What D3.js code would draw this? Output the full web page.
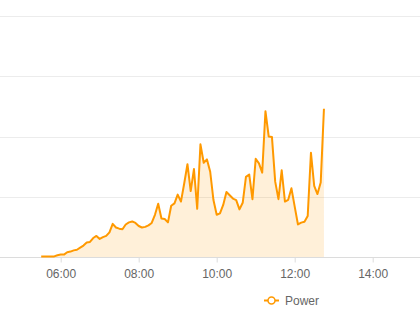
<!DOCTYPE html>
<html>
<head>
<meta charset="utf-8">
<script src="https://cdn.jsdelivr.net/npm/d3@7"></script>
<style>
  html, body { margin: 0; padding: 0; background: #fff; }
  svg { display: block; }
  text { font-family: "Liberation Sans", Arial, sans-serif; }
</style>
</head>
<body>
<svg id="chart" width="420" height="336"></svg>
<script>
// ---- data ----
const seriesName = "Power";
const startTime = "05:30";      // first sample
const stepMinutes = 5;          // sample interval
const powerValues = [
  0.01, 0.01, 0.01, 0.01, 0.01, 0.03, 0.04, 0.04, 0.08, 0.09,
  0.11, 0.12, 0.155, 0.19, 0.24, 0.25, 0.315, 0.35, 0.30, 0.33,
  0.35, 0.41, 0.55, 0.49, 0.47, 0.46, 0.54, 0.575, 0.59, 0.565,
  0.515, 0.49, 0.50, 0.525, 0.565, 0.70, 0.885, 0.64, 0.63, 0.575,
  0.85, 0.89, 1.035, 0.92, 1.22, 1.54, 1.095, 1.46, 0.80, 1.87,
  1.565, 1.62, 1.415, 0.945, 0.70, 0.725, 0.865, 1.08, 1.025, 0.97,
  0.945, 0.79, 0.90, 1.33, 1.37, 0.96, 1.63, 1.555, 1.40, 2.42,
  2.00, 1.99, 1.25, 0.96, 1.44, 0.92, 0.95, 1.14, 0.835, 0.54,
  0.57, 0.585, 0.68, 1.73, 1.18, 1.045, 1.235, 2.46
];
const xTickLabels = ["06:00", "08:00", "10:00", "12:00", "14:00"];
const yGridValues = [0, 1, 2, 3, 4];

// ---- helpers ----
const toHours = s => { const [h, m] = s.split(":").map(Number); return h + m / 60; };
const t0 = toHours(startTime);
const data = powerValues.map((v, i) => ({ t: t0 + i * stepMinutes / 60, v }));

// ---- layout ----
const W = 420, H = 336;
const pxPerHour = 39;
const x6 = 60.7;
const xDomainStart = 6 - x6 / pxPerHour;
const x = d3.scaleLinear()
  .domain([xDomainStart, xDomainStart + W / pxPerHour])
  .range([0, W]);
const y = d3.scaleLinear().domain([0, 4]).range([257, 16]);

const svg = d3.select("#chart");

// grid lines
svg.append("g").selectAll("line")
  .data(yGridValues.filter(d => d > 0))
  .join("line")
  .attr("x1", 0).attr("x2", W)
  .attr("y1", d => Math.round(y(d)) + 0.5)
  .attr("y2", d => Math.round(y(d)) + 0.5)
  .attr("stroke", "#ececec")
  .attr("stroke-width", 1);

// area + line
const area = d3.area().x(d => x(d.t)).y0(y(0)).y1(d => y(d.v));
const line = d3.line().x(d => x(d.t)).y(d => y(d.v));

svg.append("path")
  .datum(data)
  .attr("d", area)
  .attr("fill", "rgba(255,153,0,0.15)");

// x axis
const baseY = Math.round(y(0)) + 0.5;
const xAxis = d3.axisBottom(x)
  .tickValues(xTickLabels.map(toHours))
  .tickFormat((d, i) => xTickLabels[i])
  .tickSize(5)
  .tickPadding(7);
const gx = svg.append("g").attr("transform", `translate(0,${baseY})`).call(xAxis);
gx.select(".domain").remove();
gx.insert("line", ":first-child")
  .attr("x1", 0).attr("x2", W).attr("y1", 0).attr("y2", 0)
  .attr("stroke", "#dcdcdc");
gx.selectAll(".tick line").attr("stroke", "#dcdcdc");
gx.selectAll(".tick text")
  .attr("fill", "#666")
  .style("font-size", "12px")
  .style("font-family", "'Liberation Sans', Arial, sans-serif");

svg.append("path")
  .datum(data)
  .attr("d", line)
  .attr("fill", "none")
  .attr("stroke", "#ff9900")
  .attr("stroke-width", 2)
  .attr("stroke-linejoin", "round");

// legend
const lg = svg.append("g").attr("transform", "translate(264,300.5)");
lg.append("line").attr("x1", 0).attr("x2", 15).attr("y1", 0).attr("y2", 0)
  .attr("stroke", "#ff9900").attr("stroke-width", 2);
lg.append("circle").attr("cx", 7.5).attr("cy", 0).attr("r", 3.5)
  .attr("fill", "#fff").attr("stroke", "#ff9900").attr("stroke-width", 1.5);
lg.append("text").attr("x", 21).attr("y", 0).attr("dy", "0.35em")
  .attr("fill", "#666").style("font-size", "12px").text(seriesName);
</script>
</body>
</html>
